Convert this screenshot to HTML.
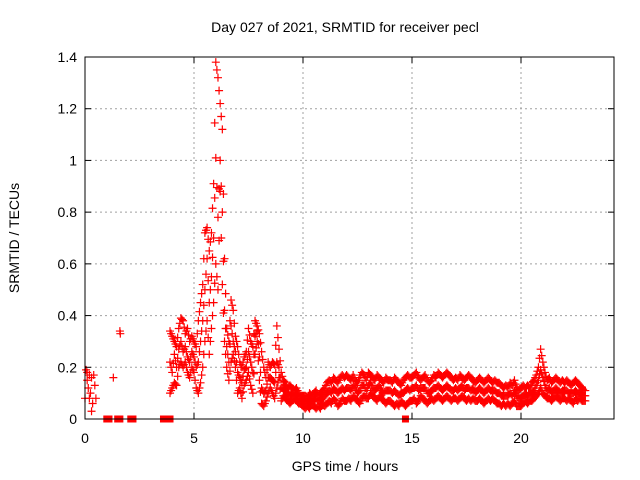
<!DOCTYPE html>
<html><head><meta charset="utf-8"><style>
body{margin:0;background:#fff;}
svg{display:block;font-family:"Liberation Sans",sans-serif;}
</style></head><body>
<svg id="chart" width="640" height="480">
<text x="345" y="32" text-anchor="middle" font-size="14">Day 027 of 2021, SRMTID for receiver pecl</text>
<text x="345" y="471" text-anchor="middle" font-size="14">GPS time / hours</text>
<text transform="translate(19,238) rotate(-90)" text-anchor="middle" font-size="14">SRMTID / TECUs</text>
<g id="grid"></g><g id="marks"></g><g id="axes"></g>
</svg>
<script>
const xTicks=[0,5,10,15,20];
const yTicks=[0,0.2,0.4,0.6,0.8,1,1.2,1.4];
const yTickLabels=["0","0.2","0.4","0.6","0.8","1","1.2","1.4"];
const earlyX=[0,0.05,0.1,0.15,0.2,0.25,0.3,0.35,0.4,0.45,0.5,0.3,0.1,0.2,1.3,1.6,1.62];
const earlyY=[0.08,0.19,0.15,0.12,0.17,0.10,0.16,0.06,0.17,0.13,0.08,0.03,0.18,0.08,0.16,0.34,0.33];
const zeroX=[1.0,1.1,1.5,1.6,2.1,2.2,3.6,3.9,14.7];
const t0=3.9, dt=0.1;
const hiY=[0.34,0.32,0.30,0.28,0.35, 0.39,0.38,0.33,0.35,0.30,0.32, 0.30,0.28,0.38,0.45,0.52, 0.72,0.74,0.65,0.72,0.91, 1.38,1.32,1.22,1.12,0.62, 0.35,0.30,0.46,0.42,0.32, 0.28,0.22,0.20,0.24,0.26, 0.35,0.30,0.28,0.38,0.36, 0.33,0.26,0.20,0.16,0.22, 0.20,0.22,0.21,0.36,0.27, 0.18,0.15,0.14,0.12,0.13, 0.12,0.11,0.12,0.10,0.09,
0.09,0.09,0.08,0.10,0.09,0.10,0.11,0.09,0.10,0.11, 0.12,0.14,0.15,0.14,0.16,0.15,0.14,0.16,0.17,0.16, 0.17,0.16,0.15,0.17,0.15,0.14,0.16,0.18,0.17,0.15, 0.18,0.17,0.16,0.15,0.17,0.16,0.15,0.14,0.16,0.15, 0.15,0.14,0.16,0.15,0.14,0.13,0.15,0.16,0.17,0.16, 0.16,0.17,0.18,0.16,0.15,0.16,0.17,0.15,0.14,0.15, 0.17,0.16,0.18,0.17,0.16,0.17,0.18,0.17,0.16,0.15, 0.16,0.15,0.17,0.16,0.15,0.16,0.17,0.16,0.15,0.14, 0.15,0.16,0.15,0.14,0.15,0.16,0.15,0.14,0.15,0.14, 0.14,0.13,0.12,0.13,0.12,0.14,0.13,0.15,0.12,0.11, 0.12,0.13,0.12,0.13,0.12,0.14,0.15,0.17,0.20,0.27, 0.22,0.18,0.15,0.16,0.14,0.15,0.16,0.15,0.14,0.15, 0.14,0.15,0.14,0.13,0.14,0.15,0.14,0.13,0.12,0.11];
const loY=[0.10,0.12,0.14,0.13,0.20, 0.22,0.20,0.22,0.18,0.16,0.20, 0.18,0.12,0.10,0.14,0.20, 0.30,0.38,0.25,0.35,0.45, 0.60,0.50,0.88,0.52,0.30, 0.20,0.15,0.22,0.25,0.20, 0.10,0.12,0.08,0.13,0.15, 0.18,0.13,0.10,0.25,0.30, 0.15,0.06,0.05,0.07,0.10, 0.12,0.10,0.08,0.12,0.16, 0.07,0.09,0.08,0.07,0.06, 0.07,0.08,0.07,0.06,0.06,
0.05,0.04,0.05,0.04,0.06,0.05,0.04,0.05,0.04,0.06, 0.05,0.06,0.07,0.06,0.08,0.07,0.05,0.06,0.08,0.07, 0.07,0.08,0.07,0.09,0.08,0.07,0.06,0.08,0.09,0.08, 0.08,0.10,0.09,0.08,0.07,0.09,0.08,0.07,0.06,0.07, 0.07,0.06,0.05,0.06,0.05,0.07,0.06,0.05,0.06,0.07, 0.07,0.08,0.06,0.07,0.09,0.08,0.07,0.06,0.07,0.08, 0.07,0.08,0.09,0.08,0.07,0.08,0.09,0.08,0.07,0.08, 0.08,0.07,0.08,0.09,0.08,0.07,0.08,0.07,0.08,0.07, 0.07,0.08,0.07,0.06,0.07,0.08,0.07,0.08,0.07,0.06, 0.06,0.05,0.06,0.05,0.06,0.05,0.06,0.07,0.05,0.05, 0.05,0.06,0.07,0.06,0.07,0.07,0.08,0.09,0.10,0.12, 0.10,0.09,0.08,0.08,0.07,0.08,0.09,0.08,0.07,0.08, 0.08,0.07,0.08,0.07,0.06,0.08,0.07,0.08,0.07,0.07];
const midY=[0.22,0.18,0.25,0.20,0.27, 0.30,0.26,0.28,0.24,0.22,0.26, 0.24,0.20,0.22,0.30,0.38, 0.50,0.62,0.45,0.55,0.70, 1.01,0.78,1.00,0.80,0.42, 0.28,0.22,0.36,0.30,0.26, 0.18,0.16,0.14,0.19,0.20, 0.26,0.22,0.18,0.32,0.34, 0.24,0.12,0.10,0.11,0.16, 0.16,0.15,0.14,0.22,0.20, 0.12,0.12,0.11,0.10,0.09, 0.10,0.09,0.10,0.08,0.08,
0.07,0.07,0.06,0.07,0.08,0.07,0.08,0.07,0.07,0.08, 0.09,0.10,0.11,0.10,0.12,0.11,0.10,0.11,0.12,0.11, 0.12,0.12,0.11,0.13,0.12,0.10,0.11,0.13,0.13,0.11, 0.13,0.14,0.12,0.11,0.12,0.13,0.11,0.10,0.11,0.11, 0.11,0.10,0.11,0.10,0.09,0.10,0.10,0.11,0.12,0.11, 0.12,0.12,0.13,0.11,0.12,0.12,0.12,0.10,0.10,0.11, 0.12,0.12,0.13,0.12,0.11,0.12,0.13,0.12,0.11,0.11, 0.12,0.11,0.12,0.13,0.11,0.12,0.12,0.11,0.12,0.10, 0.11,0.12,0.11,0.10,0.11,0.12,0.11,0.11,0.11,0.10, 0.10,0.09,0.09,0.09,0.09,0.10,0.09,0.11,0.09,0.08, 0.08,0.09,0.10,0.09,0.10,0.10,0.11,0.13,0.15,0.19, 0.16,0.13,0.11,0.12,0.10,0.11,0.12,0.11,0.10,0.11, 0.11,0.11,0.10,0.10,0.10,0.11,0.10,0.10,0.09,0.09];

const L=85,R=614,T=57,B=419,XMAX=(R-L)/21.8;
const xs=v=>L+v/XMAX*(R-L);
const ys=v=>B-v/1.4*(B-T);
const NS="http://www.w3.org/2000/svg";
function mk(tag,attrs,parent){const e=document.createElementNS(NS,tag);for(const k in attrs)e.setAttribute(k,attrs[k]);parent.appendChild(e);return e;}
const grid=document.getElementById('grid'),marks=document.getElementById('marks'),axes=document.getElementById('axes');
yTicks.forEach((v,i)=>{
  if(v>0&&v<1.4){const g=mk('line',{x1:L,x2:R,y1:ys(v),y2:ys(v),stroke:'#a0a0a0','stroke-dasharray':'2,3'},grid);
  
  }
  const t=mk('text',{x:L-8,y:ys(v)+5,'text-anchor':'end','font-size':14},axes);t.textContent=yTickLabels[i];
  
  
  mk('line',{x1:L,x2:L+6,y1:ys(v),y2:ys(v),stroke:'#000'},axes);
  mk('line',{x1:R,x2:R-6,y1:ys(v),y2:ys(v),stroke:'#000'},axes);
});
xTicks.forEach(v=>{
  if(v>0){const g=mk('line',{x1:xs(v),x2:xs(v),y1:T,y2:B,stroke:'#a0a0a0','stroke-dasharray':'2,3'},grid);
  
  }
  const t=mk('text',{x:xs(v),y:B+24,'text-anchor':'middle','font-size':14},axes);t.textContent=String(v);
  
  
  mk('line',{x1:xs(v),x2:xs(v),y1:B,y2:B-6,stroke:'#000'},axes);
  mk('line',{x1:xs(v),x2:xs(v),y1:T,y2:T+6,stroke:'#000'},axes);
});
const frame=mk('rect',{x:L,y:T,width:R-L,height:B-T,fill:'none',stroke:'#000'},axes);


function plus(x,y,col){
  const p=mk('path',{d:`M${xs(x)-4},${ys(y)}h8M${xs(x)},${ys(y)-4}v8`,stroke:col,'stroke-width':1.2,fill:'none'},marks);
  
  
}
earlyX.forEach((x,i)=>plus(x,earlyY[i],'#ff0000'));
[hiY,loY,midY].forEach(arr=>arr.forEach((v,i)=>plus(t0+i*dt,v,'#ff0000')));
[hiY,loY,midY].forEach(arr=>arr.forEach((v,i)=>plus(t0+i*dt+0.05,(v+arr[Math.min(i+1,arr.length-1)])/2,'#ff0000')));
zeroX.forEach(x=>{
  const r=mk('rect',{x:xs(x)-3.5,y:B-3.5,width:7,height:7,fill:'#ff0000'},marks);
  
  
});
</script>
</body></html>
